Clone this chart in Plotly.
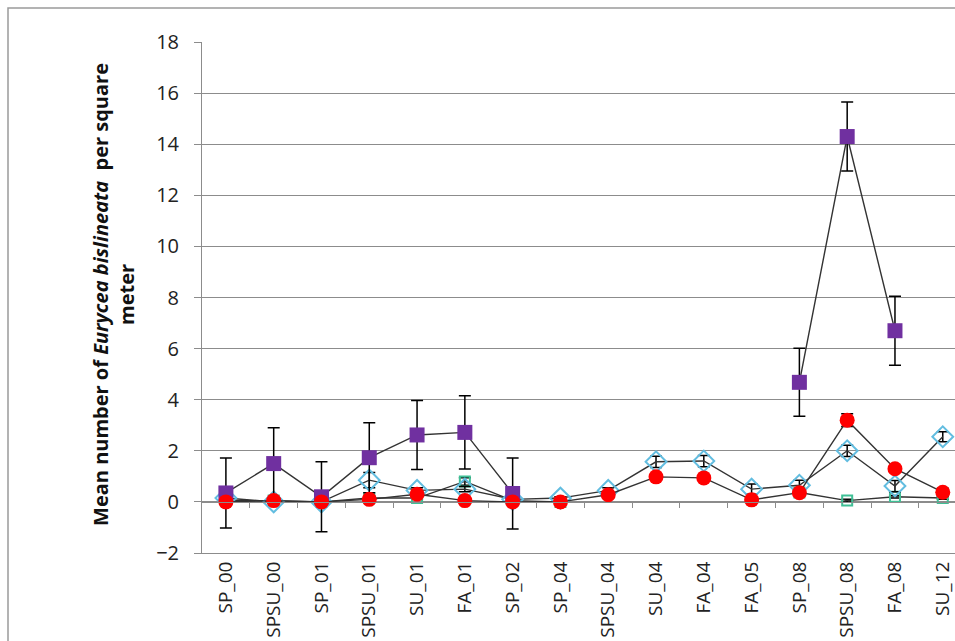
import plotly.graph_objects as go

# Sampling events (season_year)
categories = ["SP_00", "SPSU_00", "SP_01", "SPSU_01", "SU_01", "FA_01", "SP_02",
              "SP_04", "SPSU_04", "SU_04", "FA_04", "FA_05", "SP_08", "SPSU_08",
              "FA_08", "SU_12"]

# Mean counts per square meter and their errors, one list per site series
purple_mean = [0.35, 1.5, 0.2, 1.73, 2.62, 2.72, 0.33, None, None, None, None, None, 4.68, 14.3, 6.7, None]
purple_err = [1.37, 1.4, 1.37, 1.37, 1.35, 1.43, 1.39, 0, 0, 0, 0, 0, 1.33, 1.35, 1.35, 0]

blue_mean = [0.15, 0.0, 0.0, 0.85, 0.45, 0.5, 0.1, 0.15, 0.45, 1.57, 1.6, 0.5, 0.65, 2.0, 0.62, 2.55]
blue_err = [0.05, 0.05, 0.05, 0.3, 0.1, 0.1, 0.05, 0.05, 0.1, 0.22, 0.22, 0.2, 0.2, 0.22, 0.22, 0.2]

red_mean = [0.0, 0.05, 0.0, 0.1, 0.3, 0.05, 0.0, 0.0, 0.28, 0.98, 0.94, 0.08, 0.36, 3.2, 1.3, 0.38]
red_err = [0.0, 0.0, 0.0, 0.05, 0.05, 0.0, 0.0, 0.0, 0.05, 0.05, 0.05, 0.0, 0.05, 0.25, 0.1, 0.15]

green_mean = [0.05, 0.05, 0.0, 0.15, 0.15, 0.8, 0.05, 0.0, None, None, None, None, 0.37, 0.05, 0.2, 0.15]
green_err = [0.02, 0.02, 0.02, 0.1, 0.05, 0.15, 0.02, 0.02, 0, 0, 0, 0, 0.05, 0.05, 0.05, 0.05]

y_ticks = list(range(-2, 19, 2))

x_pos = list(range(len(categories)))
LINE = "#333333"
GRID = "#8c8c8c"
FONT = "'Open Sans', sans-serif"


def series(y, err, symbol, size, color, fill, lw):
    return go.Scatter(
        x=x_pos, y=y, mode="lines+markers",
        line=dict(color=LINE, width=1.4),
        marker=dict(symbol=symbol, size=size, color=fill,
                    line=dict(color=color, width=lw)),
        error_y=dict(type="data", array=err, color="black", thickness=1.5, width=6),
        showlegend=False, hoverinfo="skip",
    )


fig = go.Figure()
fig.add_trace(series(green_mean, green_err, "square-open", 10, "#3fbf95", "#3fbf95", 2))
fig.add_trace(series(blue_mean, blue_err, "diamond-open", 16, "#62bde0", "#62bde0", 2))
fig.add_trace(series(purple_mean, purple_err, "square", 15, "#7030a0", "#7030a0", 0))
fig.add_trace(series(red_mean, red_err, "circle", 15, "#ff0000", "#ff0000", 0))

# Helper trace so the crossing category axis at y = 0 is drawn
fig.add_trace(go.Scatter(x=[0], y=[None], xaxis="x2", yaxis="y",
                         showlegend=False, hoverinfo="skip"))

x_range = [-0.5, 15.256]

fig.update_layout(
    width=955, height=641,
    margin=dict(l=202, r=0, t=42, b=88),
    paper_bgcolor="white", plot_bgcolor="white",
    font=dict(family=FONT, color="#222222"),
    xaxis=dict(
        range=x_range, tickmode="array", tickvals=x_pos, ticktext=categories,
        tickangle=-90, tickfont=dict(size=19, color="#222222"),
        showgrid=False, zeroline=False, ticks="",
        showline=True, linecolor=GRID, linewidth=1,
        automargin=False,
    ),
    xaxis2=dict(
        range=x_range, overlaying="x", anchor="free", position=0.1, side="bottom",
        tickmode="array", tickvals=[i + 0.5 for i in x_pos], showticklabels=False,
        ticks="outside", ticklen=5, tickcolor=GRID, tickwidth=1,
        showline=True, linecolor=GRID, linewidth=1,
        showgrid=False, zeroline=False,
    ),
    yaxis=dict(
        range=[-2, 18], tickmode="array", tickvals=y_ticks,
        tickfont=dict(size=20, color="#222222"),
        showgrid=True, gridcolor=GRID, gridwidth=1,
        zeroline=False, showline=True, linecolor=GRID, linewidth=1,
        ticks="outside", ticklen=7, tickcolor=GRID,
        ticklabelstandoff=11, automargin=False,
    ),
    annotations=[dict(
        text="<b>Mean number of <i>Eurycea bislineata</i>  per square<br>meter</b>",
        xref="paper", yref="paper", x=(114 - 202) / 753, y=0.505,
        xanchor="center", yanchor="middle", textangle=-90, showarrow=False,
        font=dict(size=20, color="#111111", family=FONT),
    )],
    shapes=[dict(
        type="rect", xref="paper", yref="paper",
        x0=(8 - 202) / 753, x1=1.2, y0=-0.5, y1=1 + (42 - 8) / 511,
        line=dict(color="#9a9a9a", width=1.5), fillcolor="rgba(0,0,0,0)",
        layer="below",
    )],
)

fig.write_html("out.html")
